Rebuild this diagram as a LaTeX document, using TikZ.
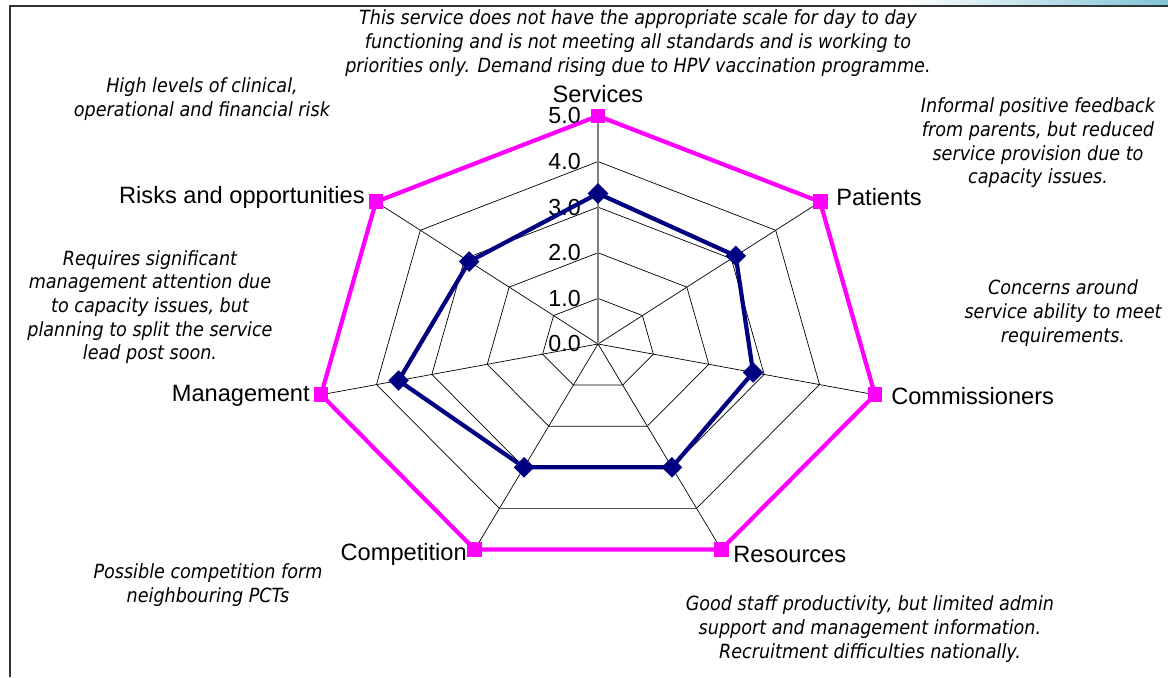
\documentclass[tikz,border=0pt]{standalone}
\usepackage{fontspec}
\setmainfont{Liberation Sans}
\newfontfamily\notefont{DejaVu Sans Condensed}
\usetikzlibrary{shapes.geometric}
\definecolor{navy}{RGB}{0,0,128}
\definecolor{pink}{RGB}{255,0,255}
\definecolor{framegray}{RGB}{51,51,51}
\definecolor{barblue}{RGB}{128,196,214}

\begin{document}
\begin{tikzpicture}[x=0.025cm,y=-0.025cm,inner sep=0pt,
  note/.style={align=center,font=\notefont\itshape\fontsize{13.9}{16.8}\selectfont},
  axislabel/.style={font=\fontsize{16.8}{18}\selectfont},
  ticklabel/.style={anchor=east,font=\fontsize{16.5}{18}\selectfont},
  smark/.style={rectangle,fill=pink,minimum size=0.37cm},
  dmark/.style={diamond,fill=navy,minimum size=0.52cm}]
\useasboundingbox (0,0) rectangle (1168,677);
% frame of the slide
\shade[left color=white,right color=barblue] (900,0) rectangle (1168,5);
\draw[framegray,line width=1.5pt] (10,677) -- (10,6) -- (1168,6);

\begin{scope}[shift={(598,344)},x=1.42cm,y=1.14cm]
% grid
\foreach \r in {1,...,4}
  \draw[line width=0.5pt] (90:\r) \foreach \k in {1,...,6} {-- ({90-\k*360/7}:\r)} -- cycle;
\foreach \k in {1,...,6} \draw[line width=0.5pt] (0,0) -- ({90-\k*360/7}:5);
\draw[gray,line width=0.8pt] (0,0) -- (90:5);
\node[ticklabel] (t0) at (-0.3,0) {0.0};
\node[ticklabel] (t1) at (-0.3,1) {1.0};
\node[ticklabel] (t2) at (-0.3,2) {2.0};
\node[ticklabel] (t3) at (-0.3,3) {3.0};
\node[ticklabel] (t4) at (-0.3,4) {4.0};
\node[ticklabel] (t5) at (-0.3,5) {5.0};
% target
\node[smark] (s1) at (90:5) {};
\node[smark] (s2) at ({90-360/7}:5) {};
\node[smark] (s3) at ({90-2*360/7}:5) {};
\node[smark] (s4) at ({90-3*360/7}:5) {};
\node[smark] (s5) at ({90-4*360/7}:5) {};
\node[smark] (s6) at ({90-5*360/7}:5) {};
\node[smark] (s7) at ({90-6*360/7}:5) {};
\draw[pink,line width=3pt] (s1.center) -- (s2.center) -- (s3.center) -- (s4.center)
  -- (s5.center) -- (s6.center) -- (s7.center) -- cycle;
% scores
\node[dmark] (d1) at (90:3.3) {};
\node[dmark] (d2) at ({90-360/7}:3.1) {};
\node[dmark] (d3) at ({90-2*360/7}:2.8) {};
\node[dmark] (d4) at ({90-3*360/7}:3.0) {};
\node[dmark] (d5) at ({90-4*360/7}:3.0) {};
\node[dmark] (d6) at ({90-5*360/7}:3.6) {};
\node[dmark] (d7) at ({90-6*360/7}:2.9) {};
\draw[navy,line width=3pt] (d1.center) -- (d2.center) -- (d3.center) -- (d4.center)
  -- (d5.center) -- (d6.center) -- (d7.center) -- cycle;
\end{scope}

% axis names
\node[axislabel] (services) at (598,94) {Services};
\node[axislabel,anchor=west] (patients) at (836,197) {Patients};
\node[axislabel,anchor=west] (commiss) at (891,396) {Commissioners};
\node[axislabel,anchor=west] (resources) at (733,554) {Resources};
\node[axislabel,anchor=east] (competition) at (467,554) {Competition};
\node[axislabel,anchor=east] (management) at (310,396) {Management};
\node[axislabel,anchor=east] (risks) at (365,197) {Risks and opportunities};

% comments
\node[note] (cservices) at (638,43) {This service does not have the appropriate scale for day to day\\
  functioning and is not meeting all standards and is working to\\
  priorities only. Demand rising due to HPV vaccination programme.};
\node[note] (crisks) at (202,99) {High levels of clinical,\\operational and financial risk};
\node[note] (cpatients) at (1038,143) {Informal positive feedback\\from parents, but reduced\\
  service provision due to\\capacity issues.};
\node[note] (ccommiss) at (1063,313) {Concerns around\\service ability to meet\\requirements.};
\node[note] (cmanagement) at (150,307) {Requires significant\\management attention due\\
  to capacity issues, but\\planning to split the service\\lead post soon.};
\node[note] (ccompetition) at (208,585) {Possible competition form\\neighbouring PCTs};
\node[note] (cresources) at (870,629) {Good staff productivity, but limited admin\\
  support and management information.\\Recruitment difficulties nationally.};
\end{tikzpicture}
\end{document}
